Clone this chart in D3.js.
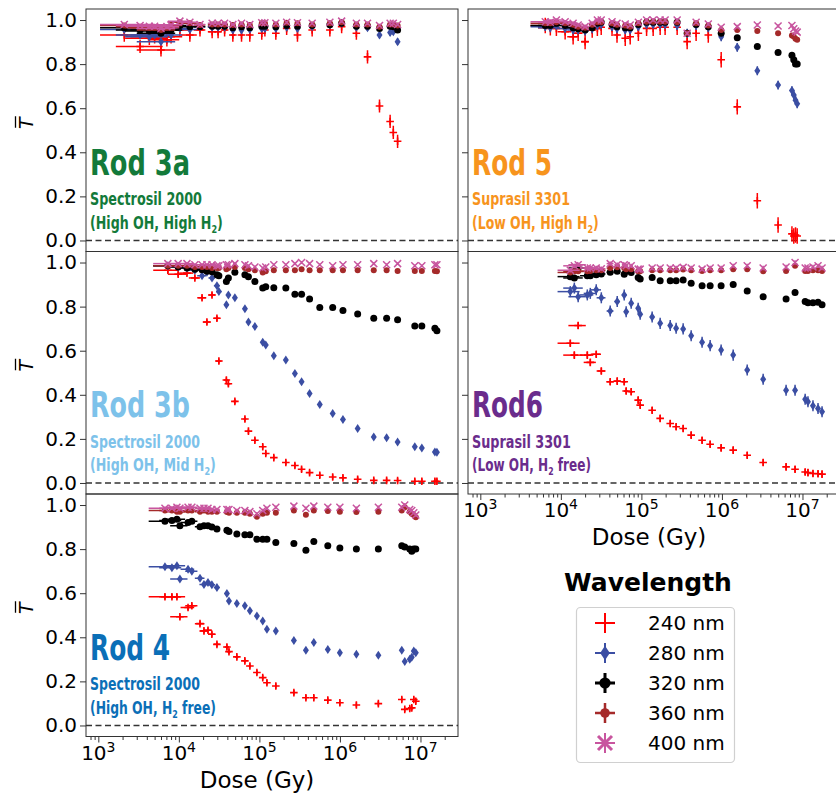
<!DOCTYPE html>
<html>
<head>
<meta charset="utf-8">
<script src="https://cdn.jsdelivr.net/npm/d3@7"></script>
<style>
  body { margin: 0; background: #fff; }
  svg { display: block; font-family: "DejaVu Sans", sans-serif; }
  .rod { font-family: "Liberation Sans Narrow", "DejaVu Sans Condensed", "Liberation Sans", sans-serif; font-weight: bold; }
</style>
</head>
<body>
<svg id="chart" width="836" height="794"></svg>
<script>
const wavelengths = ["240 nm", "280 nm", "320 nm", "360 nm", "400 nm"];
const seriesColors = ["#ff0000", "#3b4ea3", "#000000", "#a52a2a", "#c8559f"];
const yTickValues = [0, 0.2, 0.4, 0.6, 0.8, 1.0];
const xTickValues = [1e3, 1e4, 1e5, 1e6, 1e7];

// Rod 3a (Spectrosil 2000, high OH, high H2)
const dose3a = [2100, 3300, 4300, 5000, 6000, 7100, 8000, 10300, 13700, 18300, 25900, 30700, 37000, 46800, 60000,
  76000, 107000, 117000, 160000, 218000, 297000, 452000, 750000, 1050000, 1600000, 2200000, 3100000, 4200000, 4600000, 5200000];
const t240_3a = [0.932, 0.88, 0.917, 0.924, 0.864, 0.91, 0.924, 0.955, 0.932, 0.955, 0.947, 0.947, 0.955, 0.932, 0.932,
  0.932, 0.94, 0.955, 0.94, 0.962, 0.932, 0.955, 0.955, 0.97, 0.94, 0.833, 0.61, 0.54, 0.49, 0.45];
const t280_3a = [0.957, 0.932, 0.924, 0.932, 0.902, 0.955, 0.932, 0.962, 0.957, 0.97, 0.967, 0.967, 0.967, 0.955, 0.955,
  0.957, 0.962, 0.962, 0.962, 0.967, 0.962, 0.97, 0.977, 0.985, 0.967, 0.965, 0.932, 0.943, 0.947, 0.902];
const t320_3a = [0.965, 0.955, 0.95, 0.955, 0.94, 0.955, 0.955, 0.975, 0.97, 0.97, 0.972, 0.972, 0.972, 0.965, 0.97,
  0.965, 0.972, 0.972, 0.97, 0.975, 0.972, 0.975, 0.978, 0.985, 0.972, 0.972, 0.962, 0.972, 0.97, 0.955];
const t360_3a = [0.975, 0.97, 0.965, 0.965, 0.955, 0.965, 0.975, 0.99, 0.985, 0.977, 0.98, 0.98, 0.98, 0.977, 0.98,
  0.977, 0.985, 0.985, 0.98, 0.988, 0.985, 0.98, 0.985, 0.99, 0.98, 0.98, 0.97, 0.98, 0.98, 0.975];
const t400_3a = [0.98, 0.975, 0.972, 0.972, 0.962, 0.97, 0.978, 0.995, 0.99, 0.98, 0.985, 0.985, 0.985, 0.98, 0.985,
  0.98, 0.988, 0.988, 0.985, 0.99, 0.988, 0.985, 0.99, 0.995, 0.985, 0.985, 0.975, 0.985, 0.985, 0.98];
const yerr3a = [0.03, 0.015, 0.008, 0.006, 0.006];

// Rod 5 (Suprasil 3301, low OH, high H2)
const dose5 = [6400, 7400, 8800, 11300, 14200, 16400, 20000, 24500, 28400, 31700, 43200, 49800, 63000, 72600, 91700,
  116000, 140000, 171000, 197000, 278000, 370000, 478000, 677000, 979000, 1550000, 2750000, 4980000, 7400000, 7800000, 8200000, 8600000];
const t240_5 = [0.975, 0.965, 0.962, 0.947, 0.924, 0.94, 0.902, 0.955, 0.962, 0.967, 0.962, 0.932, 0.917, 0.924, 0.94,
  0.962, 0.962, 0.967, 0.967, 0.967, 0.902, 0.94, 0.932, 0.82, 0.606, 0.18, 0.07, 0.03, 0.02, 0.025, 0.02];
const t280_5 = [0.97, 0.965, 0.975, 0.962, 0.955, 0.955, 0.95, 0.96, 0.975, 0.98, 0.97, 0.96, 0.955, 0.955, 0.97,
  0.98, 0.98, 0.98, 0.98, 0.975, 0.94, 0.975, 0.965, 0.924, 0.876, 0.77, 0.705, 0.68, 0.66, 0.636, 0.62];
const t320_5 = [0.975, 0.975, 0.985, 0.975, 0.965, 0.96, 0.955, 0.965, 0.985, 0.99, 0.98, 0.97, 0.965, 0.965, 0.98,
  0.99, 0.99, 0.99, 0.99, 0.99, 0.94, 0.98, 0.97, 0.94, 0.92, 0.88, 0.853, 0.84, 0.82, 0.80, 0.80];
const t360_5 = [0.985, 0.985, 0.99, 0.985, 0.978, 0.97, 0.965, 0.978, 0.99, 0.99, 0.985, 0.978, 0.975, 0.97, 0.985,
  0.992, 0.992, 0.992, 0.992, 0.99, 0.94, 0.985, 0.975, 0.955, 0.955, 0.95, 0.94, 0.93, 0.925, 0.915, 0.91];
const t400_5 = [0.992, 0.99, 1.0, 0.992, 0.985, 0.977, 0.97, 0.985, 1.0, 1.0, 0.992, 0.985, 0.982, 0.977, 0.99,
  1.0, 1.0, 1.0, 1.0, 1.0, 0.94, 0.99, 0.982, 0.967, 0.97, 0.977, 0.973, 0.975, 0.96, 0.95, 0.945];
const yerr5 = [0.035, 0.02, 0.01, 0.006, 0.008];

// Rod 3b (Spectrosil 2000, high OH, mid H2)
const dose3b = [7300, 9800, 12600, 15800, 19400, 22300, 25800, 29700, 31400, 38900, 41200, 49600, 66100, 73100, 87900,
  110000, 120000, 151000, 213000, 276000, 334000, 420000, 562000, 813000, 1090000, 1660000, 2630000, 3800000, 5200000,
  8500000, 10400000, 15100000, 16000000];
const t240_3b = [0.965, 0.947, 0.952, 0.93, 0.84, 0.73, 0.853, 0.747, 0.553, 0.467, 0.45, 0.37, 0.29, 0.235, 0.194,
  0.164, 0.134, 0.115, 0.093, 0.079, 0.062, 0.047, 0.035, 0.027, 0.023, 0.017, 0.012, 0.012, 0.011, 0.008, 0.008, 0.008, 0.008];
const t280_3b = [0.985, 0.98, 0.975, 0.965, 0.94, 0.956, 0.93, 0.895, 0.868, 0.808, 0.853, 0.84, 0.79, 0.73, 0.71,
  0.638, 0.626, 0.577, 0.558, 0.497, 0.459, 0.406, 0.356, 0.315, 0.288, 0.247, 0.209, 0.205, 0.186, 0.164, 0.159, 0.141, 0.139];
const t320_3b = [0.985, 0.98, 0.975, 0.97, 0.967, 0.96, 0.958, 0.944, 0.94, 0.914, 0.93, 0.956, 0.944, 0.935, 0.914,
  0.884, 0.89, 0.886, 0.884, 0.856, 0.856, 0.835, 0.796, 0.796, 0.782, 0.767, 0.747, 0.747, 0.74, 0.712, 0.712, 0.702, 0.69];
const t360_3b = [0.985, 0.985, 0.985, 0.98, 0.98, 0.98, 0.975, 0.975, 0.975, 0.97, 0.975, 0.98, 0.975, 0.97, 0.965,
  0.955, 0.96, 0.965, 0.965, 0.965, 0.97, 0.965, 0.965, 0.965, 0.965, 0.965, 0.965, 0.965, 0.962, 0.962, 0.962, 0.962, 0.96];
const t400_3b = [0.995, 0.995, 0.995, 0.99, 0.99, 0.99, 0.99, 0.985, 0.985, 0.99, 0.99, 0.995, 0.99, 0.985, 0.98,
  0.975, 0.98, 0.99, 0.99, 0.995, 1.0, 0.995, 0.99, 0.985, 0.99, 0.99, 0.995, 0.99, 0.995, 0.985, 0.985, 0.99, 0.99];
const yerr3b = [0.012, 0.008, 0.006, 0.005, 0.006];

// Rod 6 (Suprasil 3301, low OH, H2 free)
const dose6 = [13100, 14700, 16400, 21300, 23200, 27500, 31800, 41000, 50100, 61200, 64700, 74700, 91200, 96600, 136000,
  171000, 228000, 270000, 330000, 415000, 567000, 714000, 977000, 1380000, 2060000, 3250000, 6260000, 8090000,
  10800000, 11700000, 13500000, 15600000, 17500000];
const t240_6 = [0.634, 0.58, 0.714, 0.58, 0.547, 0.584, 0.508, 0.459, 0.462, 0.459, 0.417, 0.414, 0.376, 0.353, 0.33,
  0.293, 0.27, 0.255, 0.247, 0.217, 0.194, 0.176, 0.159, 0.149, 0.126, 0.093, 0.073, 0.062, 0.05, 0.047, 0.043, 0.042, 0.04];
const t280_6 = [0.868, 0.884, 0.845, 0.853, 0.86, 0.876, 0.84, 0.78, 0.823, 0.853, 0.777, 0.815, 0.793, 0.765, 0.753,
  0.724, 0.714, 0.702, 0.699, 0.668, 0.638, 0.623, 0.603, 0.58, 0.512, 0.471, 0.421, 0.421, 0.38, 0.368, 0.35, 0.338, 0.323];
const t320_6 = [0.936, 0.93, 0.975, 0.94, 0.94, 0.945, 0.948, 0.956, 0.96, 0.947, 0.96, 0.955, 0.932, 0.925, 0.932,
  0.917, 0.917, 0.917, 0.921, 0.906, 0.895, 0.895, 0.895, 0.9, 0.871, 0.845, 0.834, 0.864, 0.823, 0.818, 0.818, 0.82, 0.808];
const t360_6 = [0.955, 0.96, 0.96, 0.96, 0.962, 0.965, 0.965, 0.975, 0.978, 0.975, 0.97, 0.97, 0.96, 0.96, 0.965,
  0.965, 0.965, 0.965, 0.968, 0.965, 0.962, 0.965, 0.965, 0.97, 0.97, 0.96, 0.962, 0.985, 0.962, 0.962, 0.965, 0.965, 0.962];
const t400_6 = [0.965, 0.985, 0.99, 0.975, 0.975, 0.975, 0.972, 0.995, 0.99, 0.99, 0.985, 0.985, 0.97, 0.97, 0.975,
  0.975, 0.975, 0.975, 0.978, 0.975, 0.97, 0.975, 0.975, 0.985, 0.985, 0.975, 0.98, 1.0, 0.975, 0.975, 0.98, 0.985, 0.975];
const yerr6 = [0.015, 0.025, 0.012, 0.008, 0.01];

// Rod 4 (Spectrosil 2000, high OH, H2 free)
const dose4 = [6720, 8200, 9460, 10300, 13000, 14500, 18300, 20500, 23000, 25700, 29700, 39500, 41900, 52500, 66000,
  76200, 93100, 110000, 124000, 160000, 268000, 378000, 474000, 707000, 998000, 1600000, 3000000, 5860000, 6380000,
  7360000, 7800000, 8260000, 8750000];
const t240_4 = [0.584, 0.584, 0.584, 0.493, 0.535, 0.543, 0.462, 0.429, 0.432, 0.414, 0.368, 0.356, 0.335, 0.311, 0.293,
  0.27, 0.24, 0.217, 0.194, 0.179, 0.149, 0.126, 0.126, 0.115, 0.103, 0.093, 0.099, 0.118, 0.073, 0.077, 0.08, 0.118, 0.11];
const t280_4 = [0.72, 0.715, 0.724, 0.664, 0.709, 0.70, 0.668, 0.64, 0.649, 0.638, 0.626, 0.599, 0.565, 0.553, 0.543,
  0.52, 0.497, 0.474, 0.436, 0.429, 0.386, 0.341, 0.376, 0.345, 0.33, 0.323, 0.318, 0.341, 0.29, 0.30, 0.31, 0.338, 0.33];
const t320_4 = [0.926, 0.93, 0.936, 0.906, 0.921, 0.926, 0.902, 0.906, 0.906, 0.90, 0.891, 0.886, 0.88, 0.868, 0.865,
  0.865, 0.845, 0.845, 0.845, 0.83, 0.826, 0.795, 0.834, 0.815, 0.805, 0.80, 0.80, 0.815, 0.81, 0.80, 0.79, 0.80, 0.80];
const t360_4 = [0.975, 0.975, 0.97, 0.97, 0.975, 0.975, 0.97, 0.975, 0.97, 0.97, 0.97, 0.968, 0.965, 0.965, 0.965,
  0.96, 0.947, 0.96, 0.965, 0.965, 0.975, 0.956, 0.975, 0.973, 0.97, 0.968, 0.97, 0.975, 0.99, 0.97, 0.96, 0.955, 0.945];
const t400_4 = [0.985, 0.985, 0.99, 0.985, 0.99, 0.99, 0.985, 0.985, 0.985, 0.98, 0.98, 0.98, 0.98, 0.975, 0.975,
  0.97, 0.96, 0.975, 0.985, 0.99, 0.995, 0.985, 0.995, 0.99, 0.99, 0.985, 0.99, 0.99, 1.0, 0.98, 0.975, 0.965, 0.955];
const yerr4 = [0.012, 0.01, 0.008, 0.006, 0.008];

// ---- layout ----
const svg = d3.select("#chart");
const colX = [[86, 458], [468, 840]];
const rowH = 242.5;
const rowTop = r => 9 + rowH * r;
const xDomain = [Math.pow(10, 2.847), Math.pow(10, 7.466)];
const yDomain = [-0.05, 1.05];

const panels = [
  { col: 0, row: 0, name: "Rod 3a", glass: "Spectrosil 2000", note: "(High OH, High H₂)", color: "#137a3a",
    dose: dose3a, series: [t240_3a, t280_3a, t320_3a, t360_3a, t400_3a], yerr: yerr3a, xerr: 3000, widths: [100, 112, 133] },
  { col: 1, row: 0, name: "Rod 5", glass: "Suprasil 3301", note: "(Low OH, High H₂)", color: "#f7941d",
    dose: dose5, series: [t240_5, t280_5, t320_5, t360_5, t400_5], yerr: yerr5, xerr: 2200, widths: [80, 98, 127] },
  { col: 0, row: 1, name: "Rod 3b", glass: "Spectrosil 2000", note: "(High OH, Mid H₂)", color: "#7dc2ea",
    dose: dose3b, series: [t240_3b, t280_3b, t320_3b, t360_3b, t400_3b], yerr: yerr3b, xerr: 2500, widths: [100, 110, 126] },
  { col: 1, row: 1, name: "Rod6", glass: "Suprasil 3301", note: "(Low OH, H₂ free)", color: "#6a2c8c",
    dose: dose6, series: [t240_6, t280_6, t320_6, t360_6, t400_6], yerr: yerr6, xerr: 4000, widths: [71, 99, 119], xAxis: true, xLabelX: 649 },
  { col: 0, row: 2, name: "Rod 4", glass: "Spectrosil 2000", note: "(High OH, H₂ free)", color: "#0b6fb7",
    dose: dose4, series: [t240_4, t280_4, t320_4, t360_4, t400_4], yerr: yerr4, xerr: 2500, widths: [80, 110, 126], xAxis: true, xLabelX: 257 }
];

// marker drawing, k = wavelength index
function drawMarker(g, k, s) {
  const c = seriesColors[k];
  if (k === 0) {
    g.append("path").attr("d", `M${-3.8 * s},0H${3.8 * s}M0,${-3.8 * s}V${3.8 * s}`).attr("stroke", c).attr("stroke-width", 1.6 * s).attr("fill", "none");
  } else if (k === 1) {
    g.append("path").attr("d", `M0,${-4.5 * s}L${3 * s},0L0,${4.5 * s}L${-3 * s},0Z`).attr("fill", c);
  } else if (k === 2) {
    g.append("circle").attr("r", 3.5 * s).attr("fill", c);
  } else if (k === 3) {
    g.append("circle").attr("r", 3 * s).attr("fill", c);
  } else {
    const r = 3.5 * s;
    g.append("path").attr("d", `M${-r},${-r}L${r},${r}M${-r},${r}L${r},${-r}`).attr("stroke", c).attr("stroke-width", 1.5 * s).attr("fill", "none");
  }
}

function fitWidth(sel, w) {
  const bb = sel.node().getBBox();
  sel.attr("transform", `translate(${bb.x},0) scale(${w / bb.width},1) translate(${-bb.x},0)`);
}

function addSubText(sel, str) {
  const parts = str.split("₂");
  parts.forEach((p, i) => {
    if (i > 0) {
      sel.append("tspan").attr("font-size", 11).attr("dy", 4).text("2");
      sel.append("tspan").attr("dy", -4).text(p);
    } else {
      sel.append("tspan").text(p);
    }
  });
}

panels.forEach((p, pi) => {
  const [x0, x1] = colX[p.col];
  const top = rowTop(p.row), bottom = top + rowH;
  const x = d3.scaleLog().domain(xDomain).range([x0, x1]);
  const y = d3.scaleLinear().domain(yDomain).range([bottom, top]);

  svg.append("clipPath").attr("id", "clip" + pi)
    .append("rect").attr("x", x0).attr("y", top).attr("width", x1 - x0).attr("height", rowH);

  const plot = svg.append("g").attr("clip-path", `url(#clip${pi})`);

  plot.append("line")
    .attr("x1", x0).attr("x2", x1).attr("y1", y(0)).attr("y2", y(0))
    .attr("stroke", "#333").attr("stroke-width", 1.5).attr("stroke-dasharray", "6,3.5");

  p.series.forEach((vals, k) => {
    const pts = vals.map((t, j) => ({ d: p.dose[j], t }));
    const sg = plot.append("g");
    const c = seriesColors[k];
    sg.selectAll("line.xe").data(pts).join("line").attr("class", "xe")
      .attr("x1", d => x(Math.max(d.d - p.xerr, d.d * 0.5))).attr("x2", d => x(d.d + p.xerr))
      .attr("y1", d => y(d.t)).attr("y2", d => y(d.t))
      .attr("stroke", c).attr("stroke-width", 1.5);
    sg.selectAll("line.ye").data(pts).join("line").attr("class", "ye")
      .attr("x1", d => x(d.d)).attr("x2", d => x(d.d))
      .attr("y1", d => y(d.t - p.yerr[k])).attr("y2", d => y(d.t + p.yerr[k]))
      .attr("stroke", c).attr("stroke-width", 1.5);
    sg.selectAll("g.m").data(pts).join("g").attr("class", "m")
      .attr("transform", d => `translate(${x(d.d)},${y(d.t)})`)
      .each(function () { drawMarker(d3.select(this), k, 1); });
  });

  // frame
  svg.append("rect").attr("x", x0).attr("y", top).attr("width", x1 - x0).attr("height", rowH)
    .attr("fill", "none").attr("stroke", "#333").attr("stroke-width", 1);

  // y axis
  const yAxis = d3.axisLeft(y).tickValues(yTickValues).tickSize(6).tickSizeOuter(0)
    .tickFormat(p.col === 0 ? d3.format(".1f") : "");
  const ya = svg.append("g").attr("transform", `translate(${x0},0)`).call(yAxis);
  ya.select(".domain").remove();
  ya.selectAll("text").attr("font-size", 20).attr("font-family", "DejaVu Sans").attr("fill", "#000");
  ya.selectAll("line").attr("stroke", "#333");

  if (p.col === 0) {
    const lab = svg.append("g").attr("transform", `translate(33,${top + rowH / 2 - 7}) rotate(-90)`);
    lab.append("text").attr("text-anchor", "middle").attr("font-size", 19).attr("font-style", "italic").text("T");
    lab.append("line").attr("x1", -4.5).attr("x2", 7).attr("y1", -17.5).attr("y2", -17.5)
      .attr("stroke", "#000").attr("stroke-width", 1.3);
  }

  // x axis for the bottom panels
  if (p.xAxis) {
    const minors = [];
    for (let e = 2; e <= 7; e++) for (let m = 2; m <= 9; m++) {
      const v = m * Math.pow(10, e);
      if (v >= xDomain[0] && v <= xDomain[1]) minors.push(v);
    }
    const xa = svg.append("g").attr("transform", `translate(0,${bottom})`);
    xa.call(d3.axisBottom(x).tickValues(xTickValues).tickSize(6).tickSizeOuter(0).tickFormat(""));
    xa.call(g => g.select(".domain").remove());
    const xm = svg.append("g").attr("transform", `translate(0,${bottom})`);
    xm.call(d3.axisBottom(x).tickValues(minors).tickSize(3.5).tickSizeOuter(0).tickFormat(""));
    xm.select(".domain").remove();
    svg.selectAll(".tick line").attr("stroke", "#333");

    svg.append("g").selectAll("text").data(xTickValues).join("text")
      .attr("x", d => x(d)).attr("y", bottom + 23).attr("text-anchor", "middle").attr("font-size", 20)
      .each(function (d) {
        const t = d3.select(this);
        t.append("tspan").text("10");
        t.append("tspan").attr("dy", -8).attr("font-size", 14).text(Math.round(Math.log10(d)));
      });
    svg.append("text").attr("x", p.xLabelX).attr("y", bottom + 51).attr("text-anchor", "middle")
      .attr("font-size", 23).text("Dose (Gy)");
  }

  // rod annotation
  const lx = x0 + 4;
  const t1 = svg.append("text").attr("class", "rod").attr("x", lx).attr("y", top + 166)
    .attr("font-size", 35).attr("fill", p.color).text(p.name);
  fitWidth(t1, p.widths[0]);
  const t2 = svg.append("text").attr("class", "rod").attr("x", lx).attr("y", top + 196.5)
    .attr("font-size", 17).attr("fill", p.color).text(p.glass);
  fitWidth(t2, p.widths[1]);
  const t3 = svg.append("text").attr("class", "rod").attr("x", lx).attr("y", top + 220)
    .attr("font-size", 17).attr("fill", p.color);
  addSubText(t3, p.note);
  fitWidth(t3, p.widths[2]);
});

// ---- legend ----
svg.append("text").attr("x", 648).attr("y", 591).attr("text-anchor", "middle")
  .attr("font-size", 25).attr("font-weight", "bold").text("Wavelength");
svg.append("rect").attr("x", 576.5).attr("y", 607.5).attr("width", 158).attr("height", 155).attr("rx", 4)
  .attr("fill", "#fff").attr("stroke", "#d0d0d0").attr("stroke-width", 1.2);

const legendBarW = [2, 2, 3, 2.5, 2];
const leg = svg.append("g").selectAll("g").data(wavelengths).join("g")
  .attr("transform", (d, i) => `translate(605,${623 + i * 30})`);
leg.each(function (d, k) {
  const g = d3.select(this);
  const c = seriesColors[k];
  g.append("path").attr("d", "M-10,0H10M0,-10V10").attr("stroke", c).attr("stroke-width", legendBarW[k]).attr("fill", "none");
  drawMarker(g, k, k === 0 ? 0 : (k === 4 ? 2 : 1.6));
  g.append("text").attr("x", 43).attr("dy", "0.35em").attr("font-size", 20).text(d);
});
</script>
</body>
</html>
